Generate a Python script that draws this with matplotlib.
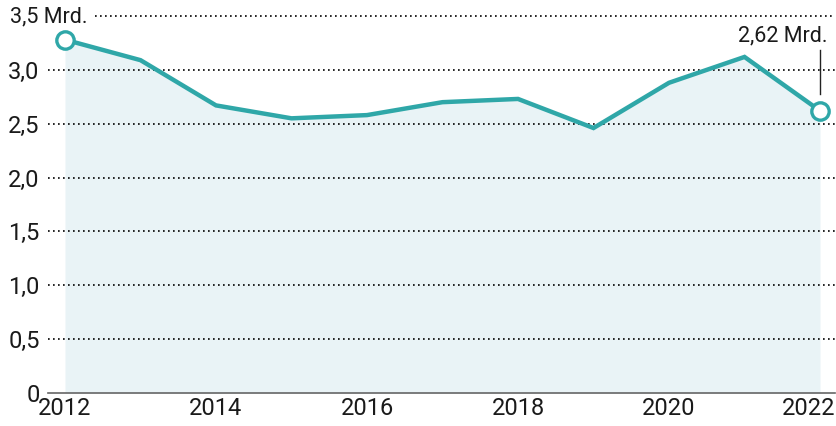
import matplotlib
matplotlib.use("Agg")
import matplotlib.pyplot as plt

years = [2012, 2013, 2014, 2015, 2016, 2017, 2018, 2019, 2020, 2021, 2022]
values = [3.28, 3.09, 2.67, 2.55, 2.58, 2.70, 2.73, 2.46, 2.88, 3.12, 2.62]
ytick_vals = [0, 0.5, 1.0, 1.5, 2.0, 2.5, 3.0]
ytick_labels = ["0", "0,5", "1,0", "1,5", "2,0", "2,5", "3,0"]
top_label = "3,5 Mrd."
xtick_vals = [2012, 2014, 2016, 2018, 2020, 2022]
end_label = "2,62 Mrd."

plt.rcParams['font.family'] = ['Roboto', 'DejaVu Sans']
W, H = 837, 426
fig = plt.figure(figsize=(W / 100, H / 100), dpi=100)
ax_l, ax_r, ax_t, ax_b = 48, 835, 16, 393
ax = fig.add_axes([ax_l / W, (H - ax_b) / H, (ax_r - ax_l) / W, (ax_b - ax_t) / H])

teal = "#2fa7a8"
fill = "#e9f3f6"
txt = "#1a1a1a"

ax.set_xlim(2012 - 17 / 75.5, 2022 + 15 / 75.5)
ax.set_ylim(0, 3.5)

ax.fill_between(years, values, 0, color=fill, zorder=1, lw=0)

ytr = ax.get_yaxis_transform()
for v in ytick_vals[1:]:
    ax.plot([0, 1], [v, v], transform=ytr, color="black", lw=1.2,
            linestyle=(0, (1, 2)), zorder=2, clip_on=False)
ax.plot([(95 - ax_l) / (ax_r - ax_l), 1], [3.5, 3.5], transform=ytr, color="black", lw=1.2,
        linestyle=(0, (1, 2)), zorder=2, clip_on=False)

ax.plot([0, 1], [0, 0], transform=ytr, color="#666666", lw=1.2, zorder=3, clip_on=False)

ax.plot(years, values, color=teal, lw=3.2, zorder=4, solid_joinstyle="miter")
ax.plot([years[0], years[-1]], [values[0], values[-1]], linestyle="none", marker="o",
        markersize=12.5, markerfacecolor="white", markeredgecolor=teal,
        markeredgewidth=2.4, zorder=5, clip_on=False)

ax.plot([years[-1], years[-1]], [2.78, 3.18], color="#222222", lw=1, zorder=6)
ax.text(years[-1] + 0.1, 3.22, end_label, ha="right", va="bottom", fontsize=15.5,
        color=txt, zorder=6,
        bbox=dict(facecolor="white", edgecolor="none", pad=0.5))

for s in ax.spines.values():
    s.set_visible(False)
ax.set_yticks(ytick_vals)
ax.set_yticklabels(ytick_labels)
ax.set_xticks(xtick_vals)
ax.set_xticklabels([str(x) for x in xtick_vals])
ax.tick_params(axis="both", length=0, labelsize=17, colors=txt)
ax.tick_params(axis="y", pad=6)
ax.tick_params(axis="x", pad=3)
lbls = ax.get_xticklabels()
lbls[-1].set_horizontalalignment("right")
import matplotlib.transforms as mtransforms
lbls[-1].set_transform(lbls[-1].get_transform() + mtransforms.ScaledTranslation(15 / 100, 0, fig.dpi_scale_trans))
ax.patch.set_alpha(0)

ax.text(10 / W, (H - 17) / H, top_label, transform=fig.transFigure, ha="left",
        va="center", fontsize=15.5, color=txt)

fig.savefig("out.png", dpi=100)
